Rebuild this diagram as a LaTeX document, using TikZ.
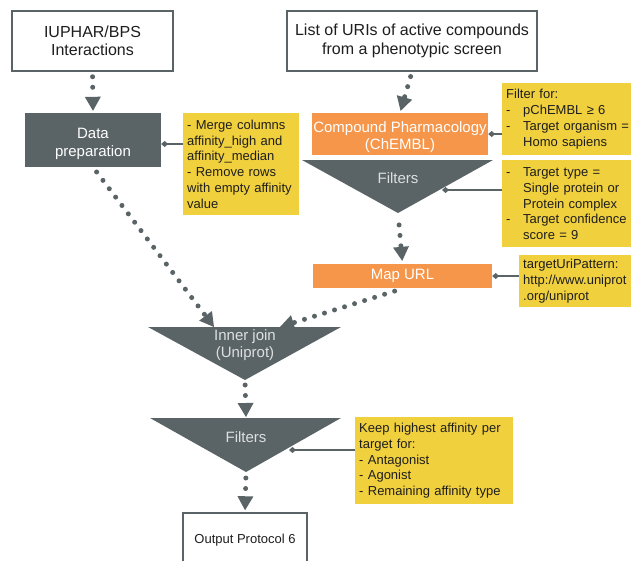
\documentclass[tikz,border=0pt]{standalone}
\usepackage{fontspec}
\setmainfont{Liberation Sans}
\usetikzlibrary{arrows.meta}
\definecolor{dgray}{RGB}{90,99,101}
\definecolor{lgray}{RGB}{222,224,224}
\definecolor{orng}{RGB}{245,150,75}
\definecolor{ylw}{RGB}{241,208,62}
\definecolor{txt}{RGB}{30,30,30}
\newcommand{\lowtext}[2]{\raisebox{#1}[0pt][0pt]{\begin{tabular}{@{}c@{}}#2\end{tabular}}}
\begin{document}
\begin{tikzpicture}[x=1pt,y=-1pt,
  mainbox/.style={draw=dgray, line width=1.5pt, fill=white, align=center, text=txt,
    font=\fontsize{16}{18.5}\selectfont, inner sep=0pt},
  darkbox/.style={fill=dgray, text=white, align=center, font=\fontsize{15}{18}\selectfont, inner sep=0pt},
  orangebox/.style={fill=orng, text=white, align=center, font=\fontsize{15}{17}\selectfont, inner sep=0pt},
  note/.style={fill=ylw, text=txt, align=left, anchor=north west, inner xsep=4pt, inner ysep=0pt,
    font=\fontsize{13}{15.8}\selectfont},
  tri/.style={fill=dgray},
  trilabel/.style={text=lgray, font=\fontsize{15}{17}\selectfont, align=center, inner sep=0pt},
  flow/.style={draw=dgray, line width=5pt, line cap=round, dash pattern=on 0pt off 10.5pt,
    -{Triangle[length=14pt,width=16pt,line width=0pt]}},
  link/.style={draw=dgray, line width=2pt, -{Diamond[length=7pt,width=6pt,line width=0pt]}}
]
\useasboundingbox (0,0) rectangle (631,560);
\clip (0,0) rectangle (631,560);

% top boxes
\node[mainbox, minimum width=161pt, minimum height=60pt] (iuphar) at (92.5,41) {IUPHAR/BPS\\Interactions};
\node[mainbox, minimum width=250pt, minimum height=60pt] (uris) at (412,41) {List of URIs of active compounds\\from a phenotypic screen};

% left branch
\node[darkbox, minimum width=136pt, minimum height=54pt] (dp) at (93,140) {\lowtext{-7.2pt}{Data\\preparation}};

% right branch
\node[orangebox, minimum width=176pt, minimum height=42pt] (comp) at (400,134) {\lowtext{-6.7pt}{Compound Pharmacology\\(ChEMBL)}};
\fill[tri] (302,160) -- (493,160) -- (398,213) -- cycle;
\node[trilabel] (filt1) at (398,178) {Filters};
\coordinate (f1apex) at (398,213);
\coordinate (f1edge) at (442,190);

\node[orangebox, minimum width=179pt, minimum height=24pt] (map) at (402.5,276) {Map URL};

% inner join
\fill[tri] (148,327) -- (341,327) -- (245,380) -- cycle;
\node[trilabel] (ij) at (245,345) {Inner join\\(Uniprot)};
\coordinate (ijL) at (214,327);
\coordinate (ijR) at (280,327);
\coordinate (ijapex) at (245,380);

% filters 2
\fill[tri] (150,418) -- (341,418) -- (246,472) -- cycle;
\node[trilabel] (filt2) at (246,437) {Filters};
\coordinate (f2top) at (246,418);
\coordinate (f2apex) at (246,472);
\coordinate (f2edge) at (289,450);

% output
\node[mainbox, minimum width=124pt, minimum height=54pt, font=\fontsize{13}{16}\selectfont] (out) at (245,540) {Output Protocol 6};

% notes
\node[note, minimum width=115pt, minimum height=102pt, text width=108pt] (note1) at (183,113)
  {- Merge columns\\affinity\_high and\\affinity\_median\\- Remove rows\\with empty affinity\\value};
\node[note, minimum width=140pt, minimum height=72pt, text width=132pt] (note2) at (502,83)
  {Filter for:\\\makebox[17pt][l]{-}pChEMBL ≥ 6\\\makebox[17pt][l]{-}Target organism =\\\hspace*{17pt}Homo sapiens};
\node[note, minimum width=140pt, minimum height=87pt, text width=132pt] (note3) at (502,160)
  {\makebox[17pt][l]{-}Target type =\\\hspace*{17pt}Single protein or\\\hspace*{17pt}Protein complex\\\makebox[17pt][l]{-}Target confidence\\\hspace*{17pt}score = 9};
\node[note, minimum width=125pt, minimum height=52pt, text width=117pt] (note4) at (519,255)
  {targetUriPattern:\\http://www.uniprot\\.org/uniprot};
\node[note, minimum width=157pt, minimum height=87pt, text width=150pt] (note5) at (355,417)
  {Keep highest affinity per\\target for:\\- Antagonist\\- Agonist\\- Remaining affinity type};

% flow arrows
\draw[flow, shorten <=5pt, shorten >=2pt] (iuphar.south) -- (dp.north);
\draw[flow, shorten <=5pt, shorten >=2pt] (uris.south) -- (comp.north);
\draw[flow, shorten <=12pt, shorten >=3pt] (f1apex) -- (map.north);
\draw[flow, shorten <=3pt] (map.south) ++(-5,2) coordinate (mapout) (mapout) -- (ijR);
\draw[flow, shorten <=6pt] (dp.south) -- (ijL);
\draw[flow, shorten <=5pt, shorten >=1pt] (ijapex) -- (f2top);
\draw[flow, shorten <=6pt, shorten >=2pt] (f2apex) -- (out.north);

% links
\draw[link] (note1.west |- 0,144) -- (dp.east |- 0,144);
\draw[link] (note2.west |- comp.east) -- (comp.east);
\draw[link] (note3.west |- f1edge) -- (f1edge);
\draw[link] (note4.west |- map.east) -- (map.east);
\draw[link] (note5.west |- f2edge) -- (f2edge);
\end{tikzpicture}
\end{document}
